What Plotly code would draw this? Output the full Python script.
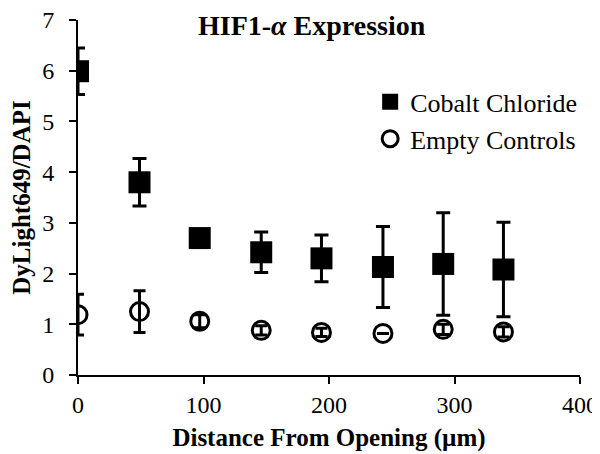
import plotly.graph_objects as go

distance = [0, 49, 97, 146, 194, 243, 291, 339]
cobalt_mean = [5.99, 3.80, 2.70, 2.42, 2.30, 2.13, 2.19, 2.08]
cobalt_err = [0.46, 0.47, 0.15, 0.40, 0.46, 0.80, 1.01, 0.93]
control_mean = [1.19, 1.25, 1.06, 0.88, 0.84, 0.82, 0.90, 0.85]
control_err = [0.40, 0.41, 0.13, 0.09, 0.08, 0.0, 0.10, 0.10]

FONT = "Liberation Serif, Times New Roman, serif"

fig = go.Figure()
fig.add_trace(go.Scatter(
    x=distance, y=cobalt_mean, mode="markers", name="Cobalt Chloride",
    marker=dict(symbol="square", size=22, color="black"),
    error_y=dict(type="data", array=cobalt_err, visible=True,
                 color="black", thickness=3, width=7),
))
fig.add_trace(go.Scatter(
    x=distance, y=control_mean, mode="markers", name="Empty Controls",
    marker=dict(symbol="circle-open", size=18, color="black",
                line=dict(width=3, color="black")),
    error_y=dict(type="data", array=control_err, visible=True,
                 color="black", thickness=3, width=6),
))

fig.update_layout(
    width=592, height=446,
    margin=dict(l=70, r=20, t=12, b=79),
    paper_bgcolor="white", plot_bgcolor="white",
    font=dict(family=FONT, size=24, color="black"),
    showlegend=True,
    legend=dict(x=0.582, y=0.717, xanchor="left", yanchor="middle",
                font=dict(family=FONT, size=26, color="black"),
                bgcolor="rgba(0,0,0,0)", tracegroupgap=0, borderwidth=0),
    xaxis=dict(range=[0, 400], tickvals=[0, 100, 200, 300, 400],
               showgrid=False, zeroline=False, showline=True,
               linecolor="black", linewidth=2, ticks="outside",
               ticklen=7, tickwidth=2, tickcolor="black", automargin=False,
               tickfont=dict(family=FONT, size=24), ticklabelstandoff=0,
               ticklabeloverflow="allow",
               title=dict(text="<b>Distance From Opening (µm)</b>",
                          font=dict(family=FONT, size=25), standoff=12)),
    yaxis=dict(range=[0, 7], tickvals=[0, 1, 2, 3, 4, 5, 6, 7],
               showgrid=False, zeroline=False, showline=True,
               linecolor="black", linewidth=2, ticks="outside",
               ticklen=7, tickwidth=2, tickcolor="black", automargin=False,
               tickfont=dict(family=FONT, size=24), ticklabelstandoff=10,
               ticklabeloverflow="allow",
               title=dict(text="<b>DyLight649/DAPI</b>",
                          font=dict(family=FONT, size=25), standoff=8)),
    annotations=[dict(text="<b>HIF1-<i>α</i> Expression</b>",
                      xref="paper", yref="paper", x=0.467, y=1.0,
                      xanchor="center", yanchor="top", yshift=12,
                      showarrow=False, font=dict(family=FONT, size=28))],
)

fig.write_html("out.html")
